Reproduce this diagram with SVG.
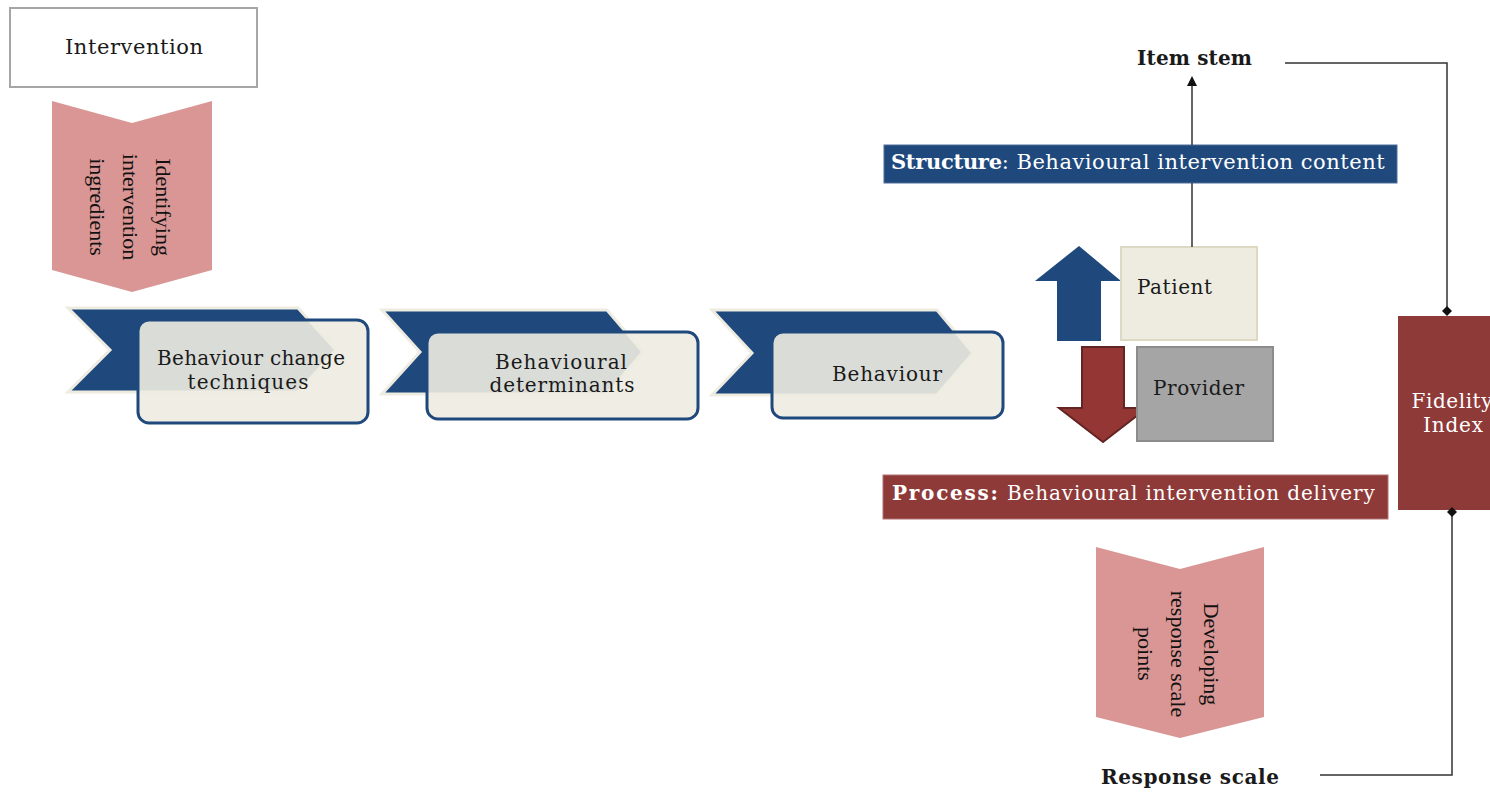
<svg xmlns="http://www.w3.org/2000/svg" width="1490" height="793" viewBox="0 0 1490 793">
<defs>
<style>
.lbl{font-family:"DejaVu Serif","Liberation Serif",serif;font-size:20px;fill:#1a1a1a}
.vt{font-family:"Liberation Serif","DejaVu Serif",serif;font-size:22px;fill:#111;text-anchor:middle}
.bold{font-weight:bold}
.wt{fill:#ffffff}
.pink{fill:#D99694}
.chev{fill:#1F497D;stroke:#EEECE1;stroke-width:3}
.card{fill:#EEECE1;fill-opacity:0.9;stroke:#1F497D;stroke-width:3}
.conn{fill:none;stroke:#333333;stroke-width:1.5}
</style>
<marker id="arr" viewBox="0 0 10 10" markerWidth="10" markerHeight="10" refX="2" refY="5" orient="auto" markerUnits="userSpaceOnUse">
<path d="M0,0 L10,5 L0,10 z" fill="#111"/>
</marker>
<marker id="dia" viewBox="0 0 10 10" markerWidth="10" markerHeight="10" refX="5" refY="5" orient="auto" markerUnits="userSpaceOnUse">
<path d="M0,5 L5,0 L10,5 L5,10 z" fill="#111"/>
</marker>
</defs>
<rect width="1490" height="793" fill="#ffffff"/>

<g id="intervention">
<rect x="10" y="8" width="247" height="79" fill="#ffffff" stroke="#A6A6A6" stroke-width="2"/>
<text class="lbl" x="134" y="54" text-anchor="middle" style="font-size:21px" textLength="138" lengthAdjust="spacing">Intervention</text>
</g>

<g id="identifying">
<polygon class="pink" points="52,101 132,123 212,101 212,270 132,292 52,270"/>
<g transform="translate(132,207) rotate(90)">
<text class="vt" x="0" y="-24">Identifying</text>
<text class="vt" x="0" y="9">intervention</text>
<text class="vt" x="0" y="42">ingredients</text>
</g>
</g>

<g id="bct">
<polygon class="chev" points="68,308 298,308 336,350 298,392 68,392 110,350"/>
<rect class="card" x="138" y="320" width="230" height="103" rx="11"/>
<text class="lbl" x="251" y="365" text-anchor="middle" textLength="188" lengthAdjust="spacing">Behaviour change</text>
<text class="lbl" x="248" y="389" text-anchor="middle" textLength="121" lengthAdjust="spacing">techniques</text>
</g>

<g id="determinants">
<polygon class="chev" points="382,310 607,310 643,352 607,394 382,394 420,352"/>
<rect class="card" x="427" y="332" width="271" height="87" rx="11"/>
<text class="lbl" x="561" y="369" text-anchor="middle" textLength="132" lengthAdjust="spacing">Behavioural</text>
<text class="lbl" x="562" y="392" text-anchor="middle" textLength="145" lengthAdjust="spacing">determinants</text>
</g>

<g id="behaviour">
<polygon class="chev" points="712,310 937,310 973,353 937,395 712,395 752,353"/>
<rect class="card" x="772" y="332" width="231" height="86" rx="11"/>
<text class="lbl" x="887" y="381" text-anchor="middle" textLength="110" lengthAdjust="spacing">Behaviour</text>
</g>

<g id="item-stem">
<text class="lbl bold" x="1137" y="65" textLength="115" lengthAdjust="spacing">Item stem</text>
</g>

<g id="structure">
<rect x="884" y="145" width="513" height="38" fill="#1F497D" stroke="#4F6F99" stroke-width="1"/>
<text class="lbl wt" x="891" y="169" style="font-size:21px"><tspan class="bold" textLength="111" lengthAdjust="spacing">Structure</tspan><tspan textLength="383" lengthAdjust="spacing">: Behavioural intervention content</tspan></text>
</g>

<g id="patient">
<polygon points="1079,246 1121,281 1101,281 1101,341 1057,341 1057,281 1035,281" fill="#1F497D"/>
<rect x="1121" y="247" width="136" height="93" fill="#EEECE1" stroke="#DDD9C3" stroke-width="2"/>
<text class="lbl" x="1137" y="294" textLength="75" lengthAdjust="spacing">Patient</text>
</g>

<g id="provider">
<polygon points="1082,347 1124,347 1124,408 1147,408 1103,442 1059,408 1082,408" fill="#943634" stroke="#632523" stroke-width="2"/>
<rect x="1137" y="347" width="136" height="94" fill="#A5A5A5" stroke="#8C8C8C" stroke-width="2"/>
<text class="lbl" x="1153" y="395" textLength="91" lengthAdjust="spacing">Provider</text>
</g>

<g id="process">
<rect x="883" y="475" width="505" height="44" fill="#8E3A39" stroke="#B07070" stroke-width="1"/>
<text class="lbl wt" x="892" y="500" style="font-size:20px"><tspan class="bold" textLength="106" lengthAdjust="spacing">Process:</tspan><tspan textLength="375" lengthAdjust="spacing"> Behavioural intervention delivery</tspan></text>
</g>

<g id="fidelity">
<rect x="1398" y="316" width="100" height="194" fill="#8E3A39"/>
<text class="lbl wt" x="1452" y="408" text-anchor="middle" style="font-size:20px" textLength="81" lengthAdjust="spacing">Fidelity</text>
<text class="lbl wt" x="1453" y="432" text-anchor="middle" style="font-size:20px" textLength="60" lengthAdjust="spacing">Index</text>
</g>

<g id="developing">
<polygon class="pink" points="1096,547 1180,569 1264,547 1264,717 1180,738 1096,717"/>
<g transform="translate(1180,654) rotate(90)">
<text class="vt" x="0" y="-24">Developing</text>
<text class="vt" x="0" y="9">response scale</text>
<text class="vt" x="0" y="42">points</text>
</g>
</g>

<g id="response-scale">
<text class="lbl bold" x="1101" y="784" textLength="178" lengthAdjust="spacing">Response scale</text>
</g>

<g id="connectors">
<path class="conn" d="M1192,145 V84" marker-end="url(#arr)"/>
<path class="conn" d="M1192,183 V247"/>
<path class="conn" d="M1285,63 H1447 V311" marker-end="url(#dia)"/>
<path class="conn" d="M1320,775 H1452 V512" marker-end="url(#dia)"/>
</g>
</svg>
